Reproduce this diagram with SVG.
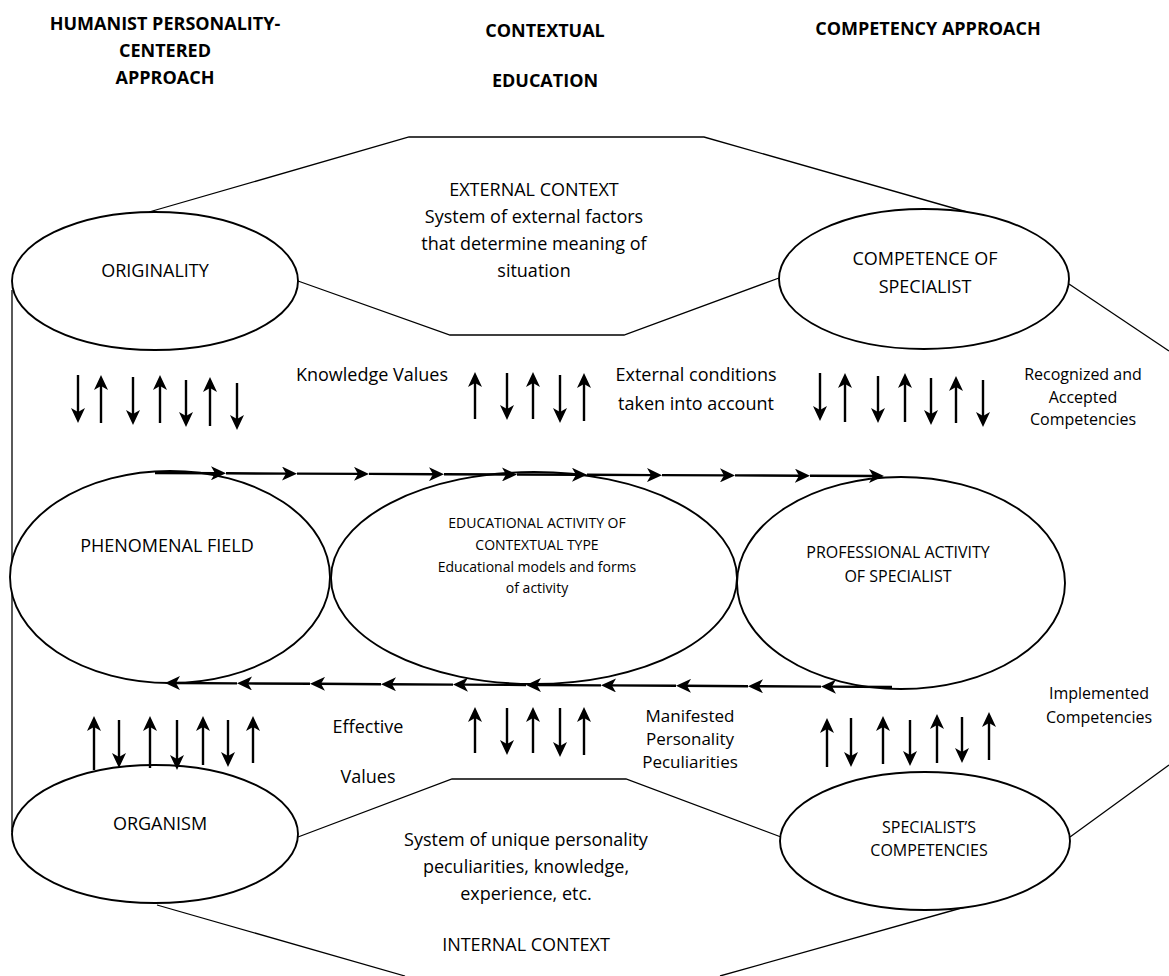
<svg xmlns="http://www.w3.org/2000/svg" width="1169" height="976" viewBox="0 0 1169 976">
<style>
text{font-family:"Open Sans","Liberation Sans",sans-serif;fill:#000;text-anchor:middle}
.h{font-weight:bold;font-size:18px}
.t{font-size:18px}
.m{font-size:17px}
.s{font-size:16px}
.xs{font-size:14px}
.node{fill:#fff;stroke:#000;stroke-width:1.9}
.edge{fill:none;stroke:#000;stroke-width:1.3}
.arr{stroke:#000;stroke-width:2.4;fill:none;marker-end:url(#ah)}
</style>
<defs>
<marker id="ah" markerUnits="userSpaceOnUse" markerWidth="15" markerHeight="14" refX="7" refY="7" orient="auto">
<path d="M0,0 L15,7 L0,14 L4,7 Z" fill="#000"/>
</marker>
</defs>
<rect width="1169" height="976" fill="#fff"/>

<g id="headers">
<text class="h" x="165" y="30">HUMANIST PERSONALITY-</text>
<text class="h" x="165" y="57">CENTERED</text>
<text class="h" x="165" y="84">APPROACH</text>
<text class="h" x="545" y="37">CONTEXTUAL</text>
<text class="h" x="545" y="87">EDUCATION</text>
<text class="h" x="928" y="35">COMPETENCY APPROACH</text>
</g>

<g id="context-outlines">
<polyline class="edge" points="149,212 409,137 704,137 967,212"/>
<polyline class="edge" points="298,281 450,335 624,335 779,278"/>
<line class="edge" x1="1069" y1="284" x2="1169" y2="351"/>
<line class="edge" x1="12" y1="290" x2="12" y2="832"/>
<polyline class="edge" points="298,837 452,779 626,779 781,837"/>
<line class="edge" x1="157" y1="905" x2="405" y2="976"/>
<line class="edge" x1="965" y1="907" x2="720" y2="976"/>
<line class="edge" x1="1070" y1="837" x2="1169" y2="765"/>
</g>

<g id="external-context">
<text class="t" x="534" y="196">EXTERNAL CONTEXT</text>
<text class="t" x="534" y="223">System of external factors</text>
<text class="t" x="534" y="250">that determine meaning of</text>
<text class="t" x="534" y="277">situation</text>
</g>

<g id="internal-context">
<text class="t" x="526" y="846">System of unique personality</text>
<text class="t" x="526" y="873">peculiarities, knowledge,</text>
<text class="t" x="526" y="900">experience, etc.</text>
<text class="t" x="526" y="951">INTERNAL CONTEXT</text>
</g>

<g id="originality">
<ellipse class="node" cx="155" cy="281" rx="143" ry="69"/>
<text class="t" x="155" y="277">ORIGINALITY</text>
</g>

<g id="competence">
<ellipse class="node" cx="924" cy="279" rx="145" ry="70"/>
<text class="t" x="925" y="265">COMPETENCE OF</text>
<text class="t" x="925" y="293">SPECIALIST</text>
</g>

<g id="phenomenal-field">
<ellipse class="node" cx="170" cy="577" rx="160" ry="106"/>
<text class="t" x="167" y="552">PHENOMENAL FIELD</text>
</g>

<g id="educational-activity">
<ellipse class="node" cx="534" cy="578" rx="203" ry="106"/>
<text class="xs" x="537" y="528">EDUCATIONAL ACTIVITY OF</text>
<text class="xs" x="537" y="550">CONTEXTUAL TYPE</text>
<text class="xs" x="537" y="572">Educational models and forms</text>
<text class="xs" x="537" y="593">of activity</text>
</g>

<g id="professional-activity">
<ellipse class="node" cx="901" cy="583" rx="164" ry="106"/>
<text class="s" x="898" y="558">PROFESSIONAL ACTIVITY</text>
<text class="s" x="898" y="582">OF SPECIALIST</text>
</g>

<g id="organism">
<ellipse class="node" cx="155" cy="834" rx="143" ry="69"/>
<text class="t" x="160" y="830">ORGANISM</text>
</g>

<g id="specialists-competencies">
<ellipse class="node" cx="925" cy="841" rx="145" ry="69"/>
<text class="s" x="929" y="833">SPECIALIST’S</text>
<text class="s" x="929" y="856">COMPETENCIES</text>
</g>

<g id="labels">
<text class="t" x="372" y="381">Knowledge Values</text>
<text class="t" x="696" y="381">External conditions</text>
<text class="t" x="696" y="410">taken into account</text>
<text class="s" x="1083" y="380">Recognized and</text>
<text class="s" x="1083" y="403">Accepted</text>
<text class="s" x="1083" y="425">Competencies</text>
<text class="t" x="368" y="733">Effective</text>
<text class="t" x="368" y="783">Values</text>
<text class="m" x="690" y="722">Manifested</text>
<text class="m" x="690" y="745">Personality</text>
<text class="m" x="690" y="768">Peculiarities</text>
<text class="s" x="1099" y="699">Implemented</text>
<text class="s" x="1099" y="723">Competencies</text>
</g>

<g id="connectors">
<line class="arr" x1="155" y1="473" x2="218" y2="473.3"/>
<line class="arr" x1="226" y1="473.3" x2="289" y2="473.6"/>
<line class="arr" x1="297" y1="473.6" x2="361" y2="473.9"/>
<line class="arr" x1="369" y1="473.9" x2="436" y2="474.2"/>
<line class="arr" x1="444" y1="474.2" x2="509" y2="474.5"/>
<line class="arr" x1="517" y1="474.5" x2="579" y2="474.8"/>
<line class="arr" x1="587" y1="474.8" x2="654" y2="475.1"/>
<line class="arr" x1="662" y1="475.1" x2="727" y2="475.4"/>
<line class="arr" x1="735" y1="475.4" x2="802" y2="475.7"/>
<line class="arr" x1="810" y1="475.7" x2="876" y2="476"/>
<line class="arr" x1="892" y1="687" x2="829" y2="686.6"/>
<line class="arr" x1="821" y1="686.6" x2="756" y2="686.2"/>
<line class="arr" x1="748" y1="686.2" x2="684" y2="685.8"/>
<line class="arr" x1="676" y1="685.8" x2="609" y2="685.4"/>
<line class="arr" x1="601" y1="685.4" x2="534" y2="685"/>
<line class="arr" x1="526" y1="685" x2="461" y2="684.6"/>
<line class="arr" x1="453" y1="684.6" x2="389" y2="684.2"/>
<line class="arr" x1="381" y1="684.2" x2="318" y2="683.8"/>
<line class="arr" x1="310" y1="683.8" x2="245" y2="683.4"/>
<line class="arr" x1="237" y1="683.4" x2="173" y2="683"/>
<line class="arr" x1="78" y1="375" x2="78" y2="415"/>
<line class="arr" x1="101" y1="423" x2="101" y2="383"/>
<line class="arr" x1="133" y1="377" x2="133" y2="417"/>
<line class="arr" x1="160" y1="423" x2="160" y2="383"/>
<line class="arr" x1="186" y1="380" x2="186" y2="419"/>
<line class="arr" x1="210" y1="426" x2="210" y2="385"/>
<line class="arr" x1="237" y1="383" x2="237" y2="422"/>
<line class="arr" x1="475" y1="419" x2="475" y2="380"/>
<line class="arr" x1="507" y1="373" x2="507" y2="412"/>
<line class="arr" x1="533" y1="419" x2="533" y2="380"/>
<line class="arr" x1="560" y1="375" x2="560" y2="415"/>
<line class="arr" x1="584" y1="421" x2="584" y2="381"/>
<line class="arr" x1="820" y1="373" x2="820" y2="413"/>
<line class="arr" x1="845" y1="422" x2="845" y2="381"/>
<line class="arr" x1="878" y1="376" x2="878" y2="415"/>
<line class="arr" x1="905" y1="422" x2="905" y2="381"/>
<line class="arr" x1="931" y1="378" x2="931" y2="417"/>
<line class="arr" x1="956" y1="423" x2="956" y2="384"/>
<line class="arr" x1="983" y1="380" x2="983" y2="419"/>
<line class="arr" x1="94" y1="770" x2="94" y2="724"/>
<line class="arr" x1="119" y1="720" x2="119" y2="760"/>
<line class="arr" x1="150" y1="768" x2="150" y2="724"/>
<line class="arr" x1="177" y1="720" x2="177" y2="762"/>
<line class="arr" x1="203" y1="765" x2="203" y2="724"/>
<line class="arr" x1="228" y1="720" x2="228" y2="759"/>
<line class="arr" x1="253" y1="763" x2="253" y2="724"/>
<line class="arr" x1="475" y1="753" x2="475" y2="715"/>
<line class="arr" x1="507" y1="708" x2="507" y2="747"/>
<line class="arr" x1="533" y1="753" x2="533" y2="715"/>
<line class="arr" x1="560" y1="708" x2="560" y2="749"/>
<line class="arr" x1="584" y1="755" x2="584" y2="715"/>
<line class="arr" x1="827" y1="767" x2="827" y2="726"/>
<line class="arr" x1="851" y1="718" x2="851" y2="759"/>
<line class="arr" x1="883" y1="764" x2="883" y2="724"/>
<line class="arr" x1="910" y1="720" x2="910" y2="758"/>
<line class="arr" x1="937" y1="763" x2="937" y2="722"/>
<line class="arr" x1="962" y1="717" x2="962" y2="755"/>
<line class="arr" x1="989" y1="760" x2="989" y2="720"/>
</g>
</svg>
